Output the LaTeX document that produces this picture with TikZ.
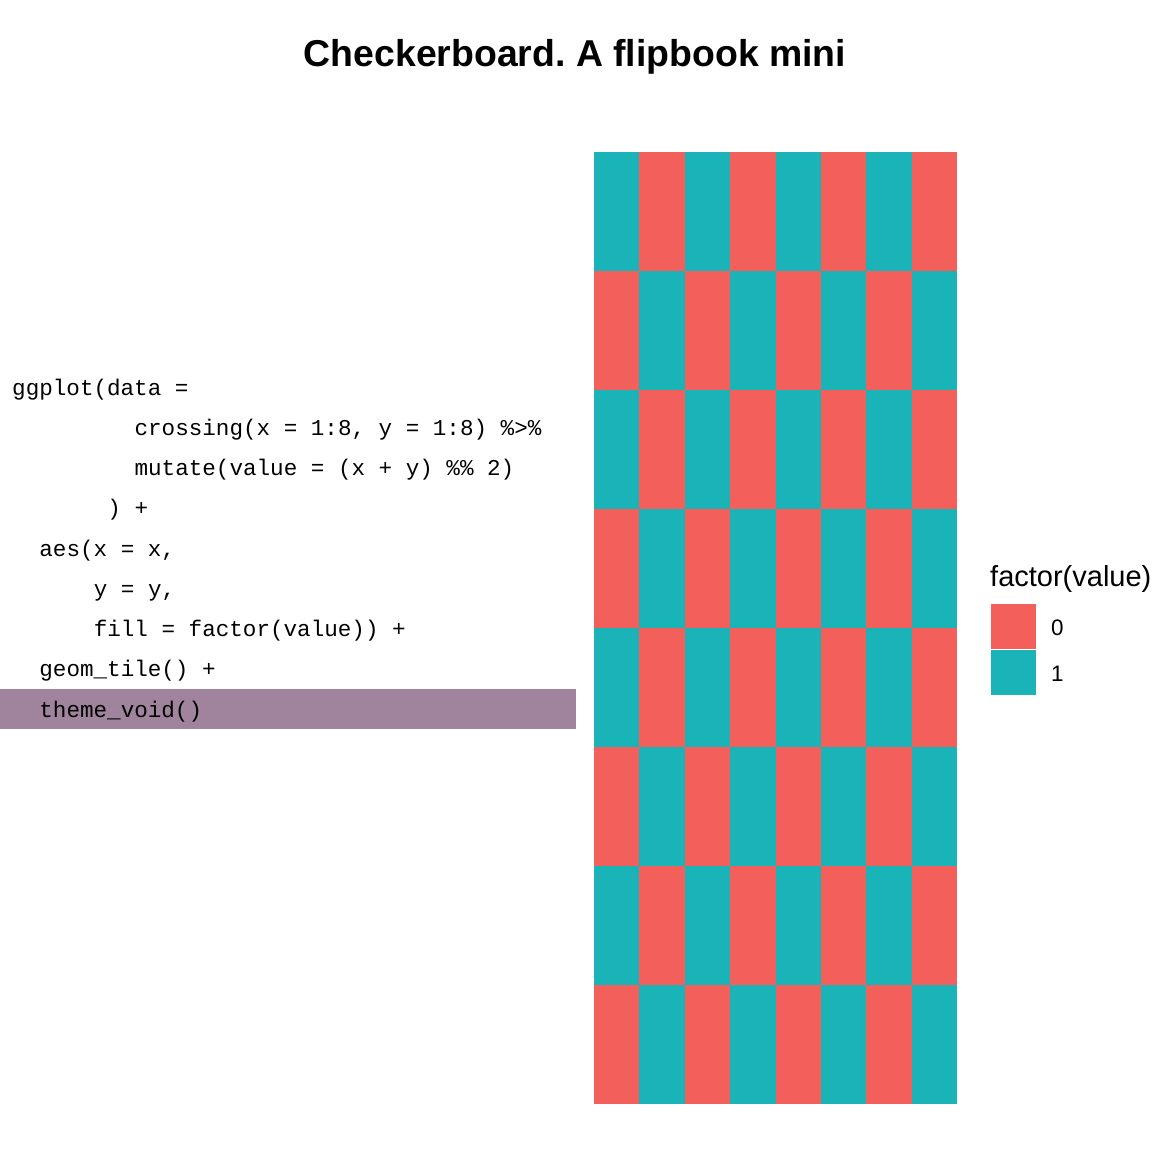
\documentclass[tikz,border=0pt]{standalone}
\usepackage{fontspec}
\setmainfont{Liberation Sans}
\setmonofont{Liberation Mono}
\usetikzlibrary{positioning}
\definecolor{tilered}{RGB}{243,95,91}
\definecolor{tileteal}{RGB}{25,179,184}
\definecolor{hilite}{RGB}{160,132,158}
\frenchspacing

\tikzset{
  codeline/.style={anchor=base west,inner sep=0pt,font=\fontsize{22.6}{24}\ttfamily},
  keybox/.style={anchor=north west,inner sep=0pt,minimum width=45pt,minimum height=45pt},
  keylabel/.style={anchor=base west,inner sep=0pt,font=\fontsize{22.4}{24}\selectfont}
}

\begin{document}
\begin{tikzpicture}[x=1pt,y=-1pt]
  \useasboundingbox (0,0) rectangle (1152,1152);

  \node[anchor=base,inner sep=0pt,font=\fontsize{37.4}{40}\bfseries] (title) at (575,66) {Checkerboard. A flipbook mini};

  % highlighted line
  \fill[hilite] (0,689) rectangle (576,729);

  \node[codeline] (ln1) at (12,395) {ggplot(data =};
  \node[codeline] (ln2) at (134.4,435) {crossing(x = 1:8, y = 1:8) \%>\%};
  \node[codeline] (ln3) at (134.4,475) {mutate(value = (x + y) \%\% 2)};
  \node[codeline] (ln4) at (107.2,515) {) +};
  \node[codeline] (ln5) at (39.2,556) {aes(x = x,};
  \node[codeline] (ln6) at (93.6,596) {y = y,};
  \node[codeline] (ln7) at (93.6,636) {fill = factor(value)) +};
  \node[codeline] (ln8) at (39.2,676) {geom\_tile() +};
  \node[codeline] (ln9) at (39.2,717) {theme\_void()};

  % tiles
  \foreach \c in {0,...,7}
    \foreach \r in {0,...,7} {
      \pgfmathparse{mod(\r+\c,2)==0 ? "tileteal" : "tilered"}
      \edef\tilecol{\pgfmathresult}
      \fill[\tilecol] ({594+\c*45.375},{152+\r*119}) rectangle ({594+(\c+1)*45.375},{152+(\r+1)*119});
    }

  % legend
  \node[anchor=base west,inner sep=0pt,font=\fontsize{29}{32}\selectfont] (legtitle) at (990,586) {factor(value)};
  \node[keybox,fill=tilered] (key0) at (991,604) {};
  \node[keybox,fill=tileteal] (key1) at (991,650) {};
  \node[keylabel] (lab0) at (1051,635) {0};
  \node[keylabel] (lab1) at (1051,681) {1};

\end{tikzpicture}
\end{document}
